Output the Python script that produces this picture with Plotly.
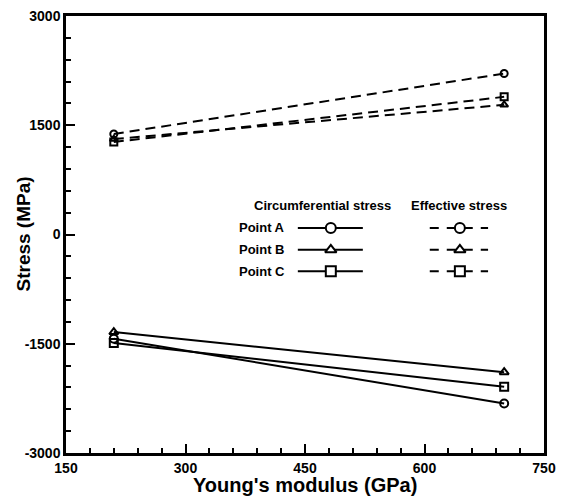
import plotly.graph_objects as go

modulus = [210, 700]
circ_A = [-1430, -2320]
circ_B = [-1340, -1890]
circ_C = [-1490, -2090]
eff_A = [1380, 2210]
eff_B = [1310, 1780]
eff_C = [1270, 1890]

points = ["Point A", "Point B", "Point C"]
symbols = ["circle-open", "triangle-up-open", "square-open"]
legend_symbols = ["circle", "triangle-up", "square"]
xticks = [150, 300, 450, 600, 750]
yticks = [-3000, -1500, 0, 1500, 3000]

FONT = "Liberation Sans, Arial, sans-serif"
fig = go.Figure()

circ = [circ_A, circ_B, circ_C]
eff = [eff_A, eff_B, eff_C]
for i in range(3):
    fig.add_trace(go.Scatter(x=modulus, y=circ[i], mode="lines+markers",
                             line=dict(color="black", width=2),
                             marker=dict(symbol=symbols[i], size=8, color="black",
                                         line=dict(width=2, color="black")),
                             showlegend=False, name=points[i] + " circumferential"))
    fig.add_trace(go.Scatter(x=modulus, y=eff[i], mode="lines+markers",
                             line=dict(color="black", width=2, dash="10px,6px"),
                             marker=dict(symbol=symbols[i], size=7, color="black",
                                         line=dict(width=2, color="black")),
                             showlegend=False, name=points[i] + " effective"))

# custom legend drawn on an overlay axis spanning the plot area
row_y = [0.515, 0.465, 0.416]
for i in range(3):
    fig.add_trace(go.Scatter(x=[0.485, 0.621], y=[row_y[i]] * 2, xaxis="x2", yaxis="y2",
                             mode="lines", line=dict(color="black", width=2),
                             showlegend=False, hoverinfo="skip"))
    fig.add_trace(go.Scatter(x=[0.761, 0.883], y=[row_y[i]] * 2, xaxis="x2", yaxis="y2",
                             mode="lines", line=dict(color="black", width=2, dash="9px,8px"),
                             showlegend=False, hoverinfo="skip"))
    fig.add_trace(go.Scatter(x=[0.554, 0.824], y=[row_y[i]] * 2, xaxis="x2", yaxis="y2",
                             mode="markers",
                             marker=dict(symbol=legend_symbols[i], size=10, color="white",
                                         line=dict(width=2, color="black")),
                             showlegend=False, hoverinfo="skip"))
    fig.add_annotation(x=0.462, y=row_y[i], xref="x2", yref="y2", text="<b>" + points[i] + "</b>",
                       showarrow=False, xanchor="right", yanchor="middle",
                       font=dict(family=FONT, size=13, color="black"))

fig.add_annotation(x=0.536, y=0.567, xref="x2", yref="y2", text="<b>Circumferential stress</b>",
                   showarrow=False, xanchor="center", yanchor="middle",
                   font=dict(family=FONT, size=13, color="black"))
fig.add_annotation(x=0.822, y=0.567, xref="x2", yref="y2", text="<b>Effective stress</b>",
                   showarrow=False, xanchor="center", yanchor="middle",
                   font=dict(family=FONT, size=13, color="black"))

# axis titles
fig.add_annotation(x=0.5, y=0, xref="paper", yref="paper", text="<b>Young's modulus (GPa)</b>",
                   showarrow=False, xanchor="center", yanchor="top", yshift=-19,
                   font=dict(family=FONT, size=20, color="black"))
fig.add_annotation(x=0, y=0.5, xref="paper", yref="paper", text="<b>Stress (MPa)</b>",
                   showarrow=False, xanchor="center", yanchor="middle", xshift=-43, textangle=-90,
                   font=dict(family=FONT, size=19, color="black"))

fig.update_layout(
    width=556, height=494,
    margin=dict(l=58, r=20, t=8, b=49),
    paper_bgcolor="white", plot_bgcolor="white",
    font=dict(family=FONT, color="black"),
    xaxis=dict(range=[150, 750], tickvals=xticks, ticktext=["<b>%d</b>" % v for v in xticks],
               ticks="inside", ticklen=9, tickwidth=2, tickcolor="black",
               minor=dict(ticks="inside", ticklen=5, tickwidth=1.5, dtick=30, tickcolor="black"),
               showline=True, linewidth=2.5, linecolor="black", mirror=True, automargin=False,
               ticklabeloverflow="allow",
               showgrid=False, zeroline=False, tickfont=dict(size=14, family=FONT)),
    yaxis=dict(range=[-3000, 3000], tickvals=yticks, ticktext=["<b>%d</b>" % v for v in yticks],
               ticks="inside", ticklen=9, tickwidth=2, tickcolor="black",
               minor=dict(ticks="inside", ticklen=5, tickwidth=1.5, dtick=300, tickcolor="black"),
               showline=True, linewidth=2.5, linecolor="black", mirror=True, automargin=False,
               ticklabeloverflow="allow",
               showgrid=False, zeroline=False, tickfont=dict(size=14, family=FONT)),
    xaxis2=dict(range=[0, 1], overlaying="x", visible=False, fixedrange=True),
    yaxis2=dict(range=[0, 1], overlaying="y", visible=False, fixedrange=True),
)

fig.write_html("out.html")
